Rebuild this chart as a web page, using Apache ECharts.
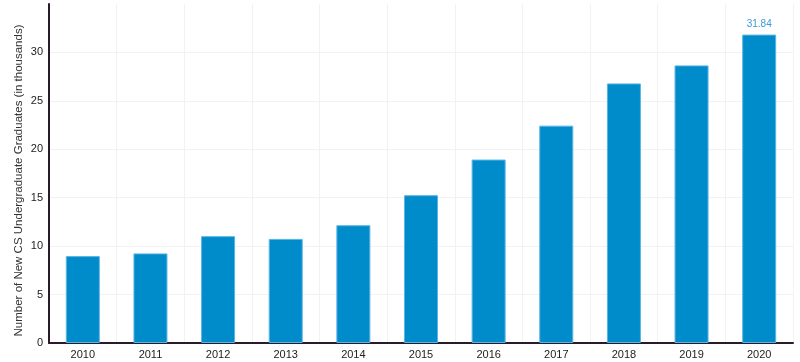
<!DOCTYPE html>
<html>
<head>
<meta charset="utf-8">
<script src="https://cdn.jsdelivr.net/npm/echarts@6/dist/echarts.min.js"></script>
<style>html,body{margin:0;padding:0;background:#fff}#c{width:800px;height:362px}</style>
</head>
<body>
<div id="c"></div>
<script>
const years = ['2010','2011','2012','2013','2014','2015','2016','2017','2018','2019','2020'];
const graduates = [8.97, 9.25, 11.03, 10.75, 12.16, 15.26, 18.94, 22.44, 26.80, 28.66, 31.84];
const yTicks = [0, 5, 10, 15, 20, 25, 30];
const yName = 'Number of New CS Undergraduate Graduates (in thousands)';

const chart = echarts.init(document.getElementById('c'));
const lastIdx = graduates.length - 1;
chart.setOption({
  animation: false,
  grid: { left: 49, right: 7, top: 4, bottom: 19, containLabel: false },
  xAxis: {
    type: 'category',
    data: years,
    axisLine: { lineStyle: { color: '#2b1a2c', width: 2 } },
    axisTick: { show: false },
    axisLabel: { color: '#222', fontSize: 11, fontFamily: 'Liberation Sans', margin: 6 },
    splitLine: { show: true, lineStyle: { color: '#f2f2f2', width: 1 } }
  },
  yAxis: {
    type: 'value',
    min: 0, max: 35, interval: 5,
    name: yName,
    nameLocation: 'middle',
    nameGap: 24,
    nameMoveOverlap: false,
    nameTextStyle: { color: '#333', fontSize: 11.5, fontFamily: 'Liberation Sans', padding: [0, 14, 0, 0] },
    axisLine: { show: true, lineStyle: { color: '#2b1a2c', width: 2 } },
    axisTick: { show: false },
    axisLabel: {
      color: '#222', fontSize: 11, fontFamily: 'Liberation Sans', margin: 6,
      showMaxLabel: false,
      formatter: v => yTicks.includes(v) ? String(v) : ''
    },
    splitLine: { show: true, showMaxLine: false, lineStyle: { color: '#f2f2f2', width: 1 } }
  },
  series: [{
    type: 'bar',
    data: graduates.map((v, i) => i === lastIdx ? {
      value: v,
      label: { show: true, position: 'top', distance: 5, color: '#3a9bd9', fontSize: 10, fontFamily: 'Liberation Sans', formatter: '{c}' }
    } : v),
    barWidth: 34,
    itemStyle: { color: '#008bcb', borderColor: '#5bb4e3', borderWidth: 1 }
  }]
});
</script>
</body>
</html>
